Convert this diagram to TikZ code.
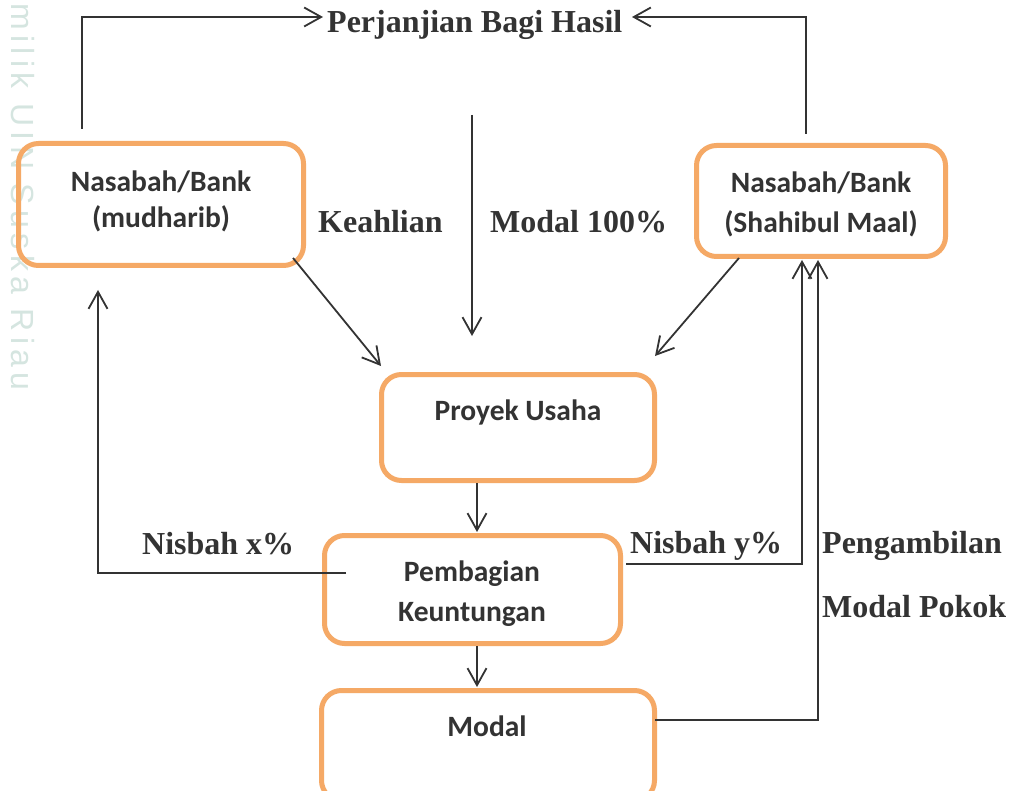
\documentclass[tikz,border=0pt]{standalone}
\usepackage{fontspec}
\setmainfont{Liberation Serif}
\newfontfamily\boxfont{Carlito}
\newfontfamily\wmfont[LetterSpace=17]{Liberation Sans}
\usetikzlibrary{arrows.meta}
\definecolor{ink}{HTML}{333333}
\definecolor{boxorange}{HTML}{F5A966}
\definecolor{wmcol}{HTML}{D5E5E0}
\begin{document}
\begin{tikzpicture}[x=1pt,y=-1pt,
  flowbox/.style={draw=boxorange, line width=5pt, rounded corners=20pt, inner sep=0pt, outer sep=0pt},
  boxtext/.style={font=\boxfont\bfseries\fontsize{29.5}{34}\selectfont, text=ink, inner sep=0pt},
  lbl/.style={font=\bfseries\fontsize{32}{38}\selectfont, text=ink, inner sep=0pt, anchor=base west},
  conn/.style={draw=ink, line width=1.8pt},
  arr/.style={conn, -{Straight Barb[length=17pt,width=19pt,line width=1.8pt]}}
]
\useasboundingbox (0,0) rectangle (1011,791);
\clip (0,0) rectangle (1011,791);
\fill[white] (0,0) rectangle (1011,791);

% watermark
\node[font=\wmfont\fontsize{32}{32}\selectfont, text=wmcol, rotate=-90, anchor=north west, inner sep=0pt] (wm) at (35,3) {milik UIN Suska Riau};

% boxes
\node[flowbox, minimum width=285pt, minimum height=122pt] (b1) at (161,204.5) {};
\node[flowbox, minimum width=249pt, minimum height=111pt] (b2) at (821,201) {};
\node[flowbox, minimum width=273pt, minimum height=106pt] (b3) at (518,427.5) {};
\node[flowbox, minimum width=296pt, minimum height=108pt] (b4) at (472.5,589.5) {};
\node[flowbox, minimum width=333pt, minimum height=110pt] (b5) at (488,745.5) {};

% box texts
\node[boxtext, anchor=base] (t1a) at (161,191.5) {Nasabah/Bank};
\node[boxtext, anchor=base] (t1b) at (161,228) {(mudharib)};
\node[boxtext, anchor=base] (t2a) at (821,193) {Nasabah/Bank};
\node[boxtext, anchor=base] (t2b) at (821,233) {(Shahibul Maal)};
\node[boxtext, anchor=base] (t3) at (518,420) {Proyek Usaha};
\node[boxtext, anchor=base] (t4a) at (472,581) {Pembagian};
\node[boxtext, anchor=base] (t4b) at (472,621.5) {Keuntungan};
\node[boxtext, anchor=base] (t5) at (487,736) {Modal};

% labels
\node[lbl] (title) at (327,33) {Perjanjian Bagi Hasil};
\node[lbl] (keah) at (318,233) {Keahlian};
\node[lbl] (mod100) at (490,233) {Modal 100\%};
\node[lbl] (nx) at (142,554) {Nisbah x\%};
\node[lbl] (ny) at (630,553) {Nisbah y\%};
\node[lbl] (peng) at (822,553) {Pengambilan};
\node[lbl] (pokok) at (822,617) {Modal Pokok};

% coordinates
\coordinate (l1) at (82,129);
\coordinate (l2) at (82,17);
\coordinate (l3) at (323,17);
\coordinate (r1) at (806,134);
\coordinate (r2) at (806,17);
\coordinate (r3) at (632,17);
\coordinate (m1) at (472,115);
\coordinate (m2) at (472,336);
\coordinate (k1) at (293,258);
\coordinate (k2) at (381,366);
\coordinate (s1) at (739,258);
\coordinate (s2) at (655,356);
\coordinate (p1) at (477,483);
\coordinate (p2) at (477,532);
\coordinate (q1) at (477,646);
\coordinate (q2) at (477,687);
\coordinate (x1) at (346,573);
\coordinate (x2) at (98,573);
\coordinate (x3) at (98,290);
\coordinate (y1) at (626,564);
\coordinate (y2) at (802,564);
\coordinate (y3) at (802,260);
\coordinate (z1) at (655,720);
\coordinate (z2) at (818,720);
\coordinate (z3) at (818,260);

% connectors
\draw[arr] (l1) -- (l2) -- (l3);
\draw[arr] (r1) -- (r2) -- (r3);
\draw[arr] (m1) -- (m2);
\draw[arr] (k1) -- (k2);
\draw[arr] (s1) -- (s2);
\draw[arr] (p1) -- (p2);
\draw[arr] (q1) -- (q2);
\draw[arr] (x1) -- (x2) -- (x3);
\draw[arr] (y1) -- (y2) -- (y3);
\draw[arr] (z1) -- (z2) -- (z3);
\end{tikzpicture}
\end{document}
